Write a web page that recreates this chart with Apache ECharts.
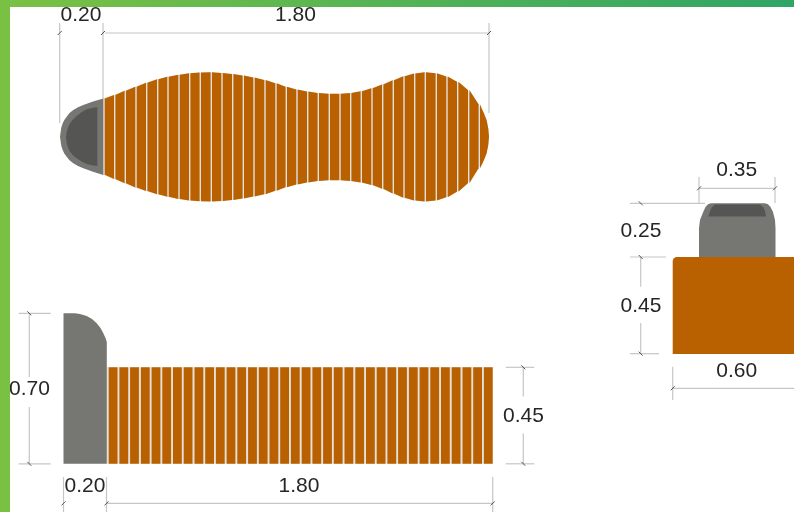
<!DOCTYPE html>
<html>
<head>
<meta charset="utf-8">
<style>html,body{margin:0;padding:0;background:#fff}#c{width:794px;height:512px}</style>
<script src="https://cdn.jsdelivr.net/npm/echarts@6/dist/echarts.min.js"></script>
</head>
<body>
<div id="c"></div>
<script>
// Plan view slat edges with the outline's upper and lower limit at each edge
const planEdges = [104,114.7,125.3,136,146.7,157.7,168,179,189.7,200.3,211.3,222,232.7,243.3,254,265,276,286.3,297,307.7,318.3,329.3,340,350.7,361.3,372,382.7,393.3,404,414.7,425.3,436.3,447,457.7,468.7,479.3];
const planTop = [98.6,95,90.7,86.7,82.7,79.3,76.8,74.7,73.2,72.4,72.3,72.9,74,75.6,77.6,80,83.3,86.7,89.5,91.6,93,93.7,93.7,93,91.2,88.3,84.6,80.2,76.3,73.4,72.2,73.2,76.4,81.7,90,104.3];
const planBottom = [174.8,179,183.3,187.5,191,194.3,196.8,199,200.6,201.3,201.4,201,200,198.4,196.6,194.2,190.7,187.2,184.4,182.4,181,180.3,180.3,181,182.5,185,188.8,193.6,197.8,200.6,201.6,200.4,197.3,191.7,183.3,168.3];
const planNose = [[481.7,108.4],[484,113.4],[486.6,120],[488.3,128.4],[489,136.7],[488.3,145],[486.6,153.4],[484,160],[481.7,165]];
const planCapOuter = [[103.3,98.4],[93,101.5],[83.3,105],[78,107.2],[73.3,110],[69.5,113],[66.7,116.7],[64.3,120],[62.7,123.3],[61.3,127.5],[60.7,131.7],[60,136.7],[60.7,141.7],[61.3,146],[62.7,150],[64.3,153.5],[66.7,156.7],[69.5,160.2],[73.3,163.3],[78,166],[83.3,168.3],[93,171.8],[103.3,175]];
const planCapInner = [[97.3,107.3],[92,108],[86.7,109.3],[81.5,112.2],[76.7,116],[73,119.5],[70,123.3],[68,127.5],[66.7,131.7],[66,136.7],[66.7,143.3],[68,147.5],[70,151.7],[73,155.2],[76.7,158.3],[81.5,161.5],[86.7,164],[92,165.3],[97.3,166]];

// Side view
const sideHead = [[63.5,313.3],[75,313.3],[80,314],[86.7,316],[92,319],[96.7,323.3],[100.5,328],[103.3,333.3],[105.5,338],[106.8,342],[106.8,463.8],[63.5,463.8]];
const sideSlats = [108.7,119.4,130.1,140.9,151.6,162.3,173,183.7,194.5,205.2,215.9,226.6,237.3,248.1,258.8,269.5,280.2,290.9,301.7,312.4,323.1,333.8,344.5,355.3,366,376.7,387.4,398.1,408.9,419.6,430.3,441,451.7,462.5,473.2,483.9];
const sideSlatWidth = 8.8, sideSlatTop = 367.3, sideSlatBottom = 463.8;

// End view
const endBody = [[672.7,354],[672.7,261],[673.5,258.5],[676,257],[800,257],[800,354]];
const endHead = [[699,257],[699,228],[700,220],[703.3,211.7],[705.5,207],[708,204.3],[711,203.3],[765,203.3],[768,204.3],[770.5,207],[773,212],[775,220],[775.5,228],[775.5,257]];
const endInset = [[708.3,216.5],[710.3,210.5],[711.7,207.5],[715,204.5],[760,204.5],[763.3,207.5],[765,211],[766,216.5]];

// Dimension lines and their end marks
const dimLines = [
  [[59.7,23],[59.7,123]],[[103,23],[103,99]],[[489,23],[489,113]],[[105,33],[489,33]],
  [[18.7,313.3],[50.7,313.3]],[[18.7,463.8],[50.7,463.8]],[[29.3,313.3],[29.3,377]],[[29.3,407],[29.3,463.8]],
  [[505.7,367.3],[534.3,367.3]],[[505.7,463.8],[534.3,463.8]],[[523.3,367.3],[523.3,396.5]],[[523.3,433.5],[523.3,463.8]],
  [[63.5,477],[63.5,512]],[[106.5,477],[106.5,512]],[[492.7,477],[492.7,512]],[[106.5,503.4],[492.7,503.4]],
  [[699,177],[699,203]],[[775,177],[775,203]],[[699,188.3],[775,188.3]],
  [[630,203.3],[705,203.3]],[[630,257],[666,257]],[[630,353.7],[659,353.7]],
  [[640.7,257],[640.7,286.7]],[[640.7,323],[640.7,353.7]],
  [[672.7,366.7],[672.7,400]],[[672.7,388.3],[794,388.3]]
];
const risingMarks = [[59.7,33],[103,33],[489,33],[63.5,503.4],[106.5,503.4],[492.7,503.4],[699,188.3],[775,188.3],[672.7,388.3]];
const fallingMarks = [[29.3,313.3],[29.3,463.8],[523.3,367.3],[523.3,463.8],[640.7,203.3],[640.7,257],[640.7,353.7]];

// Dimension texts: x, y, text
const dimTexts = [
  [81,15.5,'0.20'],[295.5,15.5,'1.80'],[29.5,389.5,'0.70'],[85,486.5,'0.20'],[299,486.5,'1.80'],[523.5,416,'0.45'],
  [736.7,170.5,'0.35'],[641,231,'0.25'],[641,305.8,'0.45'],[736.7,371,'0.60']
];

const ORANGE = '#b96000', GAP = '#e4e1db', GREY = '#767773', DARK = '#555654', DIM = '#c6c6c6', MARK = '#555';

function pts(api, list){ return list.map(p => api.coord(p)); }

function polySeries(list, color, z){
  return {
    type:'custom', coordinateSystem:'cartesian2d', z:z, silent:true, clip:false,
    data:[[list[0][0], list[0][1]]],
    renderItem:(params, api)=>({type:'polygon', shape:{points:pts(api,list)}, style:{fill:color}})
  };
}

const planBacking = planEdges.map((x,i)=>[x-1,planTop[i]]).concat(planNose, planEdges.map((x,i)=>[x-1,planBottom[i]]).reverse());

const option = {
  animation:false,
  backgroundColor:'#ffffff',
  grid:{left:0,right:0,top:0,bottom:0},
  xAxis:{type:'value',min:0,max:794,show:false},
  yAxis:{type:'value',min:0,max:512,inverse:true,show:false},
  series:[
    polySeries(planBacking, GAP, 1),
    polySeries(planCapOuter, GREY, 2),
    polySeries(planCapInner, DARK, 3),
    {
      type:'custom', z:4, silent:true, clip:false,
      data:planEdges.map((x,i)=>[x,planTop[i],planBottom[i],i]),
      renderItem:(params, api)=>{
        const i = api.value(3), g = 0.7;
        let p;
        if (i < planEdges.length-1) {
          p = [[planEdges[i]+g,planTop[i]],[planEdges[i+1]-g,planTop[i+1]],[planEdges[i+1]-g,planBottom[i+1]],[planEdges[i]+g,planBottom[i]]];
        } else {
          p = [[planEdges[i]+g,planTop[i]]].concat(planNose,[[planEdges[i]+g,planBottom[i]]]);
        }
        return {type:'polygon',shape:{points:pts(api,p)},style:{fill:ORANGE}};
      }
    },
    polySeries(sideHead, GREY, 2),
    polySeries([[106.8,sideSlatTop],[492.7,sideSlatTop],[492.7,sideSlatBottom],[106.8,sideSlatBottom]], GAP, 1),
    {
      type:'custom', z:4, silent:true, clip:false,
      data:sideSlats.map(x=>[x,sideSlatTop,sideSlatBottom]),
      renderItem:(params, api)=>{
        const a = api.coord([api.value(0),api.value(1)]), b = api.coord([api.value(0)+sideSlatWidth,api.value(2)]);
        return {type:'rect',shape:{x:a[0],y:a[1],width:b[0]-a[0],height:b[1]-a[1]},style:{fill:ORANGE}};
      }
    },
    polySeries(endHead, GREY, 2),
    polySeries(endInset, DARK, 3),
    polySeries(endBody, ORANGE, 4),
    {
      type:'custom', z:5, silent:true, clip:false,
      data:dimLines.map((l,i)=>[l[0][0],l[0][1],i]),
      renderItem:(params, api)=>{
        const l = pts(api,dimLines[api.value(2)]);
        return {type:'line',shape:{x1:l[0][0],y1:l[0][1],x2:l[1][0],y2:l[1][1]},style:{stroke:DIM,lineWidth:1.2}};
      }
    },
    {
      type:'custom', z:6, silent:true, clip:false,
      data:risingMarks,
      renderItem:(params, api)=>{
        const c = api.coord([api.value(0),api.value(1)]);
        return {type:'line',shape:{x1:c[0]-2,y1:c[1]+2,x2:c[0]+2,y2:c[1]-2},style:{stroke:MARK,lineWidth:1}};
      }
    },
    {
      type:'custom', z:6, silent:true, clip:false,
      data:fallingMarks,
      renderItem:(params, api)=>{
        const c = api.coord([api.value(0),api.value(1)]);
        return {type:'line',shape:{x1:c[0]-2,y1:c[1]-2,x2:c[0]+2,y2:c[1]+2},style:{stroke:MARK,lineWidth:1}};
      }
    },
    {
      type:'custom', z:7, silent:true, clip:false,
      data:dimTexts.map(t=>[t[0],t[1]]),
      renderItem:(params, api)=>{
        const c = api.coord([api.value(0),api.value(1)]);
        return {type:'text',style:{x:c[0],y:c[1],text:dimTexts[params.dataIndex][2],align:'center',verticalAlign:'middle',
          fontFamily:'Liberation Sans',fontSize:21,fill:'#262626'}};
      }
    },
    {
      type:'custom', z:9, silent:true, clip:false,
      data:[[0,0]],
      renderItem:(params, api)=>{
        const a = api.coord([0,0]), b = api.coord([794,7]), c = api.coord([10,512]);
        return {type:'group',children:[
          {type:'rect',shape:{x:a[0],y:a[1],width:b[0]-a[0],height:b[1]-a[1]},
           style:{fill:new echarts.graphic.LinearGradient(0,0,1,0,[{offset:0,color:'#7ac143'},{offset:1,color:'#2fa566'}])}},
          {type:'rect',shape:{x:a[0],y:a[1],width:c[0]-a[0],height:c[1]-a[1]},style:{fill:'#7ac143'}}
        ]};
      }
    }
  ]
};
const chart = echarts.init(document.getElementById('c'),null,{renderer:'canvas'});
chart.setOption(option);
</script>
</body>
</html>
